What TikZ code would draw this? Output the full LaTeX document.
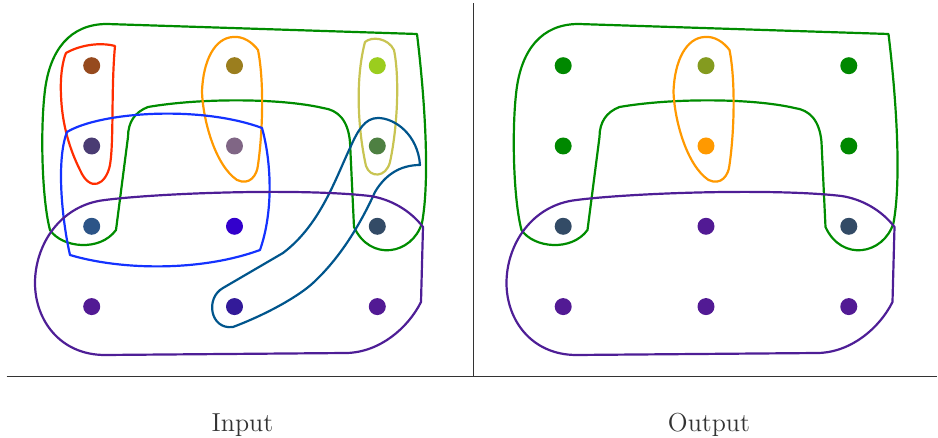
\documentclass[tikz,border=0pt]{standalone}
% hull colours
\definecolor{hgreen}{RGB}{0,140,0}
\definecolor{hred}{RGB}{255,45,0}
\definecolor{horange}{RGB}{255,153,0}
\definecolor{hkhaki}{RGB}{200,196,82}
\definecolor{hblue}{RGB}{20,50,255}
\definecolor{hpurple}{RGB}{78,30,150}
\definecolor{hteal}{RGB}{0,85,140}
% input dots
\definecolor{in00}{RGB}{150,74,30}
\definecolor{in10}{RGB}{155,126,30}
\definecolor{in20}{RGB}{155,205,30}
\definecolor{in01}{RGB}{74,60,115}
\definecolor{in11}{RGB}{128,102,133}
\definecolor{in21}{RGB}{78,128,66}
\definecolor{in02}{RGB}{44,84,135}
\definecolor{in12}{RGB}{51,0,204}
\definecolor{in22}{RGB}{51,75,102}
\definecolor{in03}{RGB}{82,26,148}
\definecolor{in13}{RGB}{51,26,153}
\definecolor{in23}{RGB}{82,26,148}
% output dots
\definecolor{out00}{RGB}{0,136,0}
\definecolor{out10}{RGB}{132,155,31}
\definecolor{out20}{RGB}{0,136,0}
\definecolor{out01}{RGB}{0,136,0}
\definecolor{out11}{RGB}{255,153,0}
\definecolor{out21}{RGB}{0,136,0}
\definecolor{out02}{RGB}{51,75,102}
\definecolor{out12}{RGB}{82,26,148}
\definecolor{out22}{RGB}{51,75,102}
\definecolor{out03}{RGB}{82,26,148}
\definecolor{out13}{RGB}{82,26,148}
\definecolor{out23}{RGB}{82,26,148}
% hulls shared by both panels
\def\greenhull{(107,24) -- (417,34) .. controls (425,100) and (430,180) .. (422,223)
  .. controls (412,255) and (370,262) .. (354,227) -- (350,142)
  .. controls (348,120) and (338,110) .. (323,108) .. controls (280,98) and (200,98) .. (148,107)
  .. controls (135,112) and (128,122) .. (128,137) -- (116,230)
  .. controls (100,252) and (62,248) .. (50,230) .. controls (42,200) and (40,130) .. (45,90)
  .. controls (50,50) and (70,24) .. (107,24) -- cycle}
\def\orangehull{(233,37) .. controls (215,38) and (203,60) .. (202,92)
  .. controls (203,120) and (215,165) .. (237,180) .. controls (250,186) and (257,175) .. (258,165)
  .. controls (263,130) and (264,80) .. (258,50) .. controls (252,42) and (243,36) .. (233,37) -- cycle}
\def\purplehull{(105,200) .. controls (160,193) and (300,188) .. (370,196)
  .. controls (390,199) and (410,210) .. (423,227) -- (421,302)
  .. controls (408,328) and (380,352) .. (347,353) -- (105,355)
  .. controls (60,355) and (35,320) .. (35,283) .. controls (35,245) and (60,205) .. (105,200) -- cycle}
\begin{document}
\begin{tikzpicture}[x=0.02cm,y=-0.02cm,
  dot/.style={circle,fill=#1,inner sep=0pt,minimum size=0.34cm},
  hull/.style={line width=1.25pt,draw=#1,line join=round},
  frame/.style={line width=0.6pt,draw=black!80},
  caption/.style={font=\fontsize{14.8}{18}\selectfont,text=black!80,anchor=base}]
  \useasboundingbox (0,0) rectangle (938,438);
  % frame
  \draw[frame] (6.7,376.7) -- (937,376.7);
  \draw[frame] (473.7,3.3) -- (473.7,376.7);
  \node[caption] (inlabel) at (242.5,432) {Input};
  \node[caption] (outlabel) at (709,432) {Output};
  % input panel
  \foreach \i in {0,1,2}
    \foreach \j in {0,...,3}
      \node[dot=in\i\j] (in\i\j) at ({91.7+142.8*\i},{65.7+80.3*\j}) {};
  \draw[hull=hgreen] \greenhull;
  \draw[hull=hred] (66,53) .. controls (80,45) and (100,42) .. (115,46)
    .. controls (111,90) and (114,140) .. (110,165) .. controls (106,185) and (90,193) .. (80,170)
    .. controls (70,150) and (62,125) .. (61,95) .. controls (60,75) and (63,60) .. (66,53) -- cycle;
  \draw[hull=horange] \orangehull;
  \draw[hull=hkhaki] (365,42) .. controls (372,36) and (388,38) .. (394,50)
    .. controls (400,80) and (397,130) .. (390,162) .. controls (386,178) and (370,178) .. (366,166)
    .. controls (358,130) and (355,80) .. (365,42) -- cycle;
  \draw[hull=hblue] (67,132) .. controls (100,112) and (200,105) .. (262,128)
    .. controls (271,160) and (274,210) .. (260,250) .. controls (200,272) and (120,270) .. (70,255)
    .. controls (62,220) and (56,160) .. (67,132) -- cycle;
  \draw[hull=hteal] (420,165) .. controls (418,135) and (395,118) .. (378,118)
    .. controls (365,118) and (358,130) .. (350,148) .. controls (335,180) and (320,225) .. (283,253)
    -- (223,288) .. controls (205,298) and (210,330) .. (233,327)
    .. controls (270,313) and (300,295) .. (313,283) .. controls (340,258) and (360,225) .. (375,192)
    .. controls (385,175) and (400,165) .. (420,165) -- cycle;
  \draw[hull=hpurple] \purplehull;
  % output panel
  \begin{scope}[shift={(471.5,0)}]
    \foreach \i in {0,1,2}
      \foreach \j in {0,...,3}
        \node[dot=out\i\j] (out\i\j) at ({91.7+142.8*\i},{65.7+80.3*\j}) {};
    \draw[hull=hgreen] \greenhull;
    \draw[hull=horange] \orangehull;
    \draw[hull=hpurple] \purplehull;
  \end{scope}
\end{tikzpicture}
\end{document}
